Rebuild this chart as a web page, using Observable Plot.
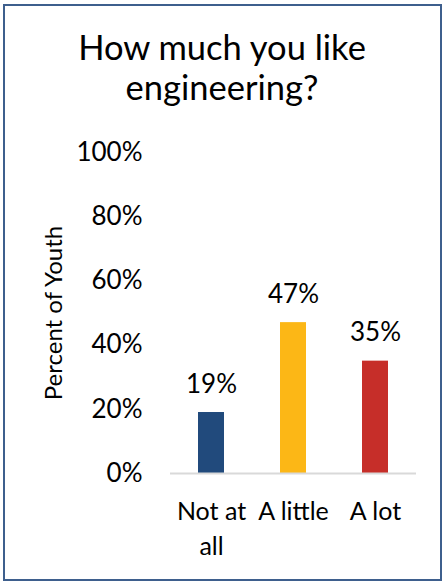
<!DOCTYPE html>
<html>
<head>
<meta charset="utf-8">
<script src="https://cdn.jsdelivr.net/npm/d3@7"></script>
<script src="https://cdn.jsdelivr.net/npm/@observablehq/plot@0.6"></script>
<style>
  html, body { margin: 0; padding: 0; background: #fff; }
  #page { position: relative; width: 444px; height: 582px; overflow: hidden; font-family: Lato, "Open Sans", sans-serif; }
  #frame { position: absolute; left: 3px; top: 4px; width: 435px; height: 573px; border: 2px solid #3e5f8d; box-sizing: content-box; }
  #title { position: absolute; left: 0; width: 444px; top: 27px; text-align: center; font-size: 34.5px; line-height: 40px; color: #000; }
  #chart { position: absolute; left: 0; top: 130px; }
</style>
</head>
<body>
<div id="page">
  <div id="frame"></div>
  <div id="title">How much you like<br>engineering?</div>
  <div id="chart"></div>
</div>
<script>
// Survey answers and share of youth giving each one
const categories = ["Not at all", "A little", "A lot"];
const tickLabels = ["Not at\nall", "A little", "A lot"];
const shares = [0.19, 0.47, 0.35];
const barColors = ["#214a7c", "#fcb716", "#c62e29"];
const yTicks = [0, 0.2, 0.4, 0.6, 0.8, 1];

const rows = categories.map((c, i) => ({category: c, share: shares[i], color: barColors[i]}));
const pct = d3.format(".0%");
const font = "Lato, 'Open Sans', sans-serif";

const chart = Plot.plot({
  width: 444,
  height: 452,
  marginTop: 22,
  marginBottom: 109,
  marginLeft: 170,
  marginRight: 28,
  style: {fontFamily: font, fontSize: "26px", color: "#000", background: "transparent"},
  x: {domain: categories, paddingInner: 0.683, paddingOuter: 0.3415, align: 0.5},
  y: {domain: [0, 1], ticks: yTicks},
  marks: [
    Plot.axisY({ticks: yTicks, tickFormat: pct, tickSize: 0, tickPadding: 28, fontSize: 26, label: null}),
    Plot.axisX({tickSize: 0, tickPadding: 22, fontSize: 25, lineHeight: 1.4,
      tickFormat: (d) => tickLabels[categories.indexOf(d)], label: null}),
    Plot.barY(rows, {x: "category", y: "share", fill: "color"}),
    Plot.ruleY([0], {stroke: "#d9d9d9", strokeWidth: 2}),
    Plot.text(rows, {x: "category", y: "share", text: (d) => pct(d.share), dy: -28, fontSize: 26, fill: "#000"}),
    Plot.text(["Percent of Youth"], {frameAnchor: "left", textAnchor: "middle", rotate: -90, dx: -116, fontSize: 24, fill: "#000"})
  ]
});
document.getElementById("chart").appendChild(chart);
</script>
</body>
</html>
